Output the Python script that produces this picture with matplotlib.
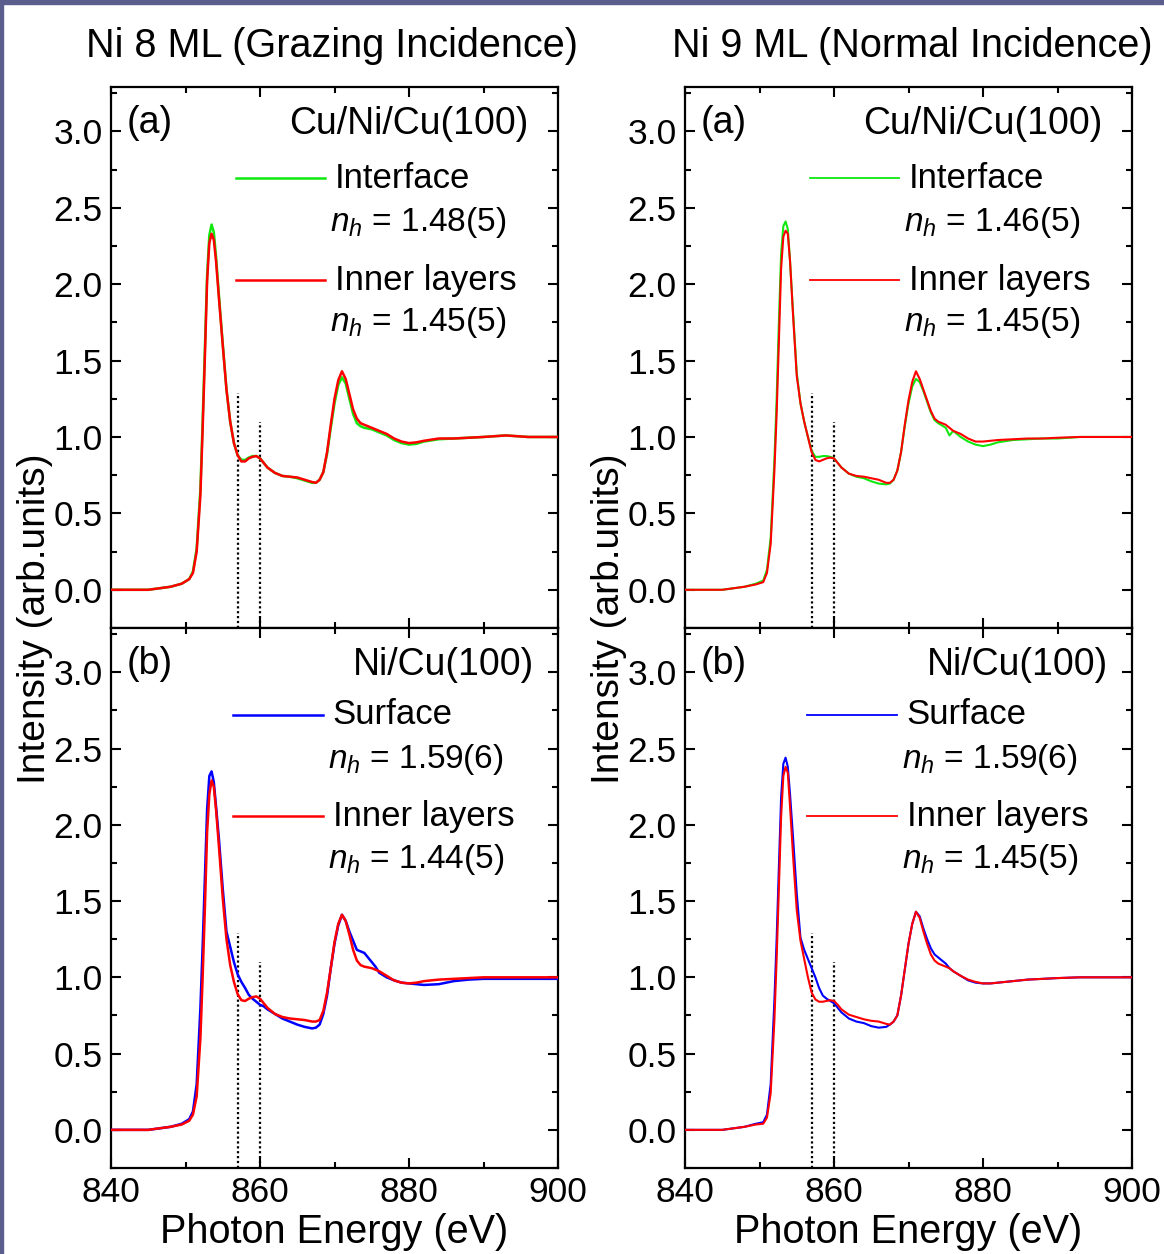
import numpy as np
import matplotlib
matplotlib.use("Agg")
import matplotlib.pyplot as plt
from matplotlib.patches import Rectangle
from matplotlib.ticker import MultipleLocator

plt.rcParams['font.family'] = ['Liberation Sans', 'DejaVu Sans']
plt.rcParams['mathtext.fontset'] = 'custom'
plt.rcParams['mathtext.rm'] = 'Liberation Sans'
plt.rcParams['mathtext.it'] = 'Liberation Sans:italic'

energy = [840, 845, 848, 849.5, 850.5, 851, 851.5, 852, 852.3, 852.6, 852.9, 853.2,
          853.5, 853.8, 854.1, 854.5, 855, 855.5, 856, 856.5, 857, 857.5, 858, 858.5,
          859, 859.5, 860, 860.5, 861, 862, 863, 864, 865, 866, 867, 867.5, 868, 868.5,
          869, 869.5, 870, 870.5, 871, 871.5, 872, 872.5, 873, 873.5, 874, 875, 875.5,
          876, 877, 878, 879, 880, 881, 882, 884, 886, 888, 890, 893, 896, 900]

# (a) grazing incidence, Cu/Ni/Cu(100)
gi_interface = [0.00, 0.00, 0.02, 0.04, 0.07, 0.12, 0.27, 0.66, 1.10, 1.58, 2.06, 2.32,
                2.39, 2.34, 2.18, 1.92, 1.61, 1.31, 1.10, 0.96, 0.88, 0.85, 0.85, 0.865,
                0.875, 0.875, 0.86, 0.83, 0.80, 0.765, 0.745, 0.74, 0.73, 0.715, 0.70, 0.70,
                0.72, 0.77, 0.89, 1.06, 1.22, 1.34, 1.39, 1.35, 1.25, 1.15, 1.09, 1.07, 1.06,
                1.05, 1.04, 1.03, 1.01, 0.98, 0.96, 0.95, 0.955, 0.97, 0.985, 0.99, 0.995,
                1.00, 1.01, 1.00, 1.00]
gi_inner = [0.00, 0.00, 0.02, 0.04, 0.07, 0.11, 0.25, 0.62, 1.05, 1.52, 2.02, 2.27,
            2.33, 2.29, 2.15, 1.90, 1.60, 1.31, 1.10, 0.96, 0.88, 0.84, 0.84, 0.86,
            0.87, 0.875, 0.86, 0.83, 0.80, 0.765, 0.745, 0.74, 0.735, 0.72, 0.705, 0.70,
            0.72, 0.77, 0.90, 1.08, 1.25, 1.37, 1.43, 1.38, 1.28, 1.18, 1.12, 1.09, 1.08,
            1.06, 1.05, 1.04, 1.02, 0.99, 0.97, 0.96, 0.965, 0.975, 0.99, 0.99, 0.995,
            1.00, 1.01, 1.00, 1.00]

# (b) grazing incidence, Ni/Cu(100)
gi_surface = [0.00, 0.00, 0.02, 0.04, 0.07, 0.12, 0.30, 0.80, 1.20, 1.65, 2.10, 2.32,
              2.35, 2.28, 2.12, 1.90, 1.58, 1.30, 1.20, 1.10, 1.02, 0.97, 0.93, 0.885,
              0.86, 0.84, 0.82, 0.81, 0.79, 0.76, 0.73, 0.71, 0.69, 0.675, 0.665, 0.67,
              0.69, 0.76, 0.88, 1.06, 1.22, 1.34, 1.41, 1.37, 1.30, 1.24, 1.18, 1.17, 1.16,
              1.10, 1.07, 1.03, 1.00, 0.98, 0.965, 0.96, 0.955, 0.95, 0.955, 0.975, 0.985,
              0.99, 0.99, 0.99, 0.99]
gi_inner_b = [0.00, 0.00, 0.02, 0.035, 0.06, 0.10, 0.22, 0.60, 1.00, 1.45, 1.95, 2.20,
              2.29, 2.25, 2.10, 1.85, 1.52, 1.25, 1.08, 0.97, 0.89, 0.85, 0.845, 0.86,
              0.87, 0.875, 0.86, 0.83, 0.80, 0.76, 0.74, 0.73, 0.725, 0.72, 0.71, 0.71,
              0.72, 0.78, 0.90, 1.06, 1.23, 1.35, 1.41, 1.37, 1.28, 1.18, 1.11, 1.08, 1.07,
              1.06, 1.05, 1.04, 1.01, 0.98, 0.965, 0.96, 0.965, 0.975, 0.985, 0.99, 0.995,
              1.00, 1.00, 1.00, 1.00]

# (a) normal incidence, Cu/Ni/Cu(100)
ni_interface = [0.00, 0.00, 0.02, 0.04, 0.06, 0.13, 0.34, 0.85, 1.25, 1.75, 2.20, 2.38,
                2.41, 2.36, 2.15, 1.82, 1.42, 1.22, 1.10, 1.00, 0.91, 0.87, 0.87, 0.875,
                0.875, 0.87, 0.86, 0.83, 0.80, 0.76, 0.74, 0.73, 0.71, 0.695, 0.69, 0.695,
                0.72, 0.78, 0.90, 1.07, 1.22, 1.33, 1.38, 1.36, 1.30, 1.23, 1.16, 1.11, 1.09,
                1.06, 1.01, 1.04, 1.00, 0.97, 0.95, 0.94, 0.95, 0.965, 0.98, 0.985, 0.99,
                0.99, 1.00, 1.00, 1.00]
ni_inner = [0.00, 0.00, 0.02, 0.035, 0.05, 0.11, 0.30, 0.78, 1.15, 1.62, 2.10, 2.31,
            2.35, 2.33, 2.15, 1.80, 1.40, 1.22, 1.10, 1.00, 0.90, 0.85, 0.84, 0.85,
            0.86, 0.865, 0.86, 0.83, 0.80, 0.76, 0.745, 0.74, 0.73, 0.72, 0.70, 0.70,
            0.72, 0.78, 0.90, 1.08, 1.24, 1.36, 1.43, 1.38, 1.31, 1.24, 1.17, 1.12, 1.10,
            1.08, 1.06, 1.04, 1.02, 0.99, 0.97, 0.97, 0.975, 0.98, 0.985, 0.99, 0.99,
            0.995, 1.00, 1.00, 1.00]

# (b) normal incidence, Ni/Cu(100)
ni_surface = [0.00, 0.00, 0.02, 0.04, 0.05, 0.10, 0.30, 0.85, 1.25, 1.72, 2.18, 2.40,
              2.44, 2.38, 2.20, 1.92, 1.55, 1.26, 1.18, 1.12, 1.06, 1.00, 0.93, 0.88,
              0.86, 0.845, 0.83, 0.80, 0.77, 0.73, 0.71, 0.70, 0.68, 0.67, 0.675, 0.69,
              0.71, 0.75, 0.88, 1.05, 1.22, 1.35, 1.43, 1.40, 1.32, 1.25, 1.19, 1.15, 1.13,
              1.09, 1.06, 1.04, 1.01, 0.98, 0.965, 0.96, 0.96, 0.965, 0.975, 0.985, 0.99,
              0.995, 1.00, 1.00, 1.00]
ni_inner_b = [0.00, 0.00, 0.02, 0.035, 0.04, 0.08, 0.24, 0.72, 1.12, 1.58, 2.05, 2.32,
              2.38, 2.34, 2.12, 1.80, 1.44, 1.24, 1.12, 1.00, 0.90, 0.855, 0.84, 0.84,
              0.845, 0.85, 0.845, 0.82, 0.79, 0.755, 0.74, 0.725, 0.715, 0.71, 0.695, 0.69,
              0.71, 0.75, 0.88, 1.05, 1.22, 1.35, 1.43, 1.39, 1.30, 1.22, 1.15, 1.11, 1.09,
              1.07, 1.06, 1.04, 1.01, 0.985, 0.97, 0.96, 0.96, 0.965, 0.975, 0.985, 0.99,
              0.995, 1.00, 1.00, 1.00]

# dotted marker lines: energy and height
marker_E = [857, 860]
marker_top = [1.29, 1.10]

titles = ["Ni 8 ML (Grazing Incidence)", "Ni 9 ML (Normal Incidence)"]
samples = ["Cu/Ni/Cu(100)", "Ni/Cu(100)"]
nh_values = [["1.48(5)", "1.45(5)", "1.59(6)", "1.44(5)"],
             ["1.46(5)", "1.45(5)", "1.59(6)", "1.45(5)"]]

GREEN, RED, BLUE = '#10e810', '#ff0000', '#0000ff'

W, H = 1164, 1254
fig = plt.figure(figsize=(W / 100, H / 100), dpi=100)

# bluish slide frame along top and left
fig.patches.append(Rectangle((0, 1 - 4 / H), 1, 4 / H, transform=fig.transFigure,
                             color='#5b5d8c', zorder=0))
fig.patches.append(Rectangle((0, 0), 3 / W, 1, transform=fig.transFigure,
                             color='#5b5d8c', zorder=0))

col_left = [111 / W, 685 / W]
title_x = [332 / W, 912 / W]
ax_w = 447 / W
top_b, top_h = 1 - 628 / H, 541 / H
bot_b, bot_h = 1 - 1168 / H, 540 / H

panel_data = [
    [(gi_interface, gi_inner, GREEN, "Interface"), (gi_surface, gi_inner_b, BLUE, "Surface")],
    [(ni_interface, ni_inner, GREEN, "Interface"), (ni_surface, ni_inner_b, BLUE, "Surface")],
]


def style_axes(ax, show_x):
    ax.set_xlim(840, 900)
    ax.set_ylim(-0.25, 3.29)
    ax.xaxis.set_major_locator(MultipleLocator(20))
    ax.xaxis.set_minor_locator(MultipleLocator(10))
    ax.yaxis.set_major_locator(MultipleLocator(0.5))
    ax.yaxis.set_minor_locator(MultipleLocator(0.25))
    ax.yaxis.set_major_formatter(matplotlib.ticker.FormatStrFormatter('%.1f'))
    ax.tick_params(which='both', direction='in', top=True, right=True, width=1.5,
                   labelsize=25.5)
    ax.tick_params(which='major', length=7, pad=6)
    ax.tick_params(which='minor', length=4)
    if not show_x:
        ax.tick_params(axis='x', labelbottom=False)
    for s in ax.spines.values():
        s.set_linewidth(1.6)


for c in range(2):
    x0 = col_left[c]
    lw = 1.8 if c == 0 else 1.5
    for r, (bot, hgt) in enumerate([(top_b, top_h), (bot_b, bot_h)]):
        ax = fig.add_axes([x0, bot, ax_w, hgt])
        first, inner, color, name = panel_data[c][r]
        ax.plot(energy, first, color=color, lw=lw, zorder=3)
        ax.plot(energy, inner, color=RED, lw=lw, zorder=4)
        for e, t in zip(marker_E, marker_top):
            ax.vlines(e, -0.25, t, colors='k', linestyles=(0, (1, 1.2)), lw=1.6, zorder=2)
        style_axes(ax, show_x=(r == 1))

        tag = "(a)" if r == 0 else "(b)"
        ax.text(0.036, 0.933, tag, transform=ax.transAxes, fontsize=27, va='center')
        sx = 0.934 if r == 0 else 0.947
        ax.text(sx, 0.931, samples[r], transform=ax.transAxes, fontsize=27,
                va='center', ha='right')

        # hand-made legend
        y1, y2, y3, y4 = (0.831, 0.750, 0.643, 0.564) if r == 0 else (0.839, 0.756, 0.651, 0.572)
        lx0, lx1 = (0.280, 0.479) if r == 0 else (0.273, 0.474)
        leg_lw = 1.8 if (c == 0) else 1.3
        ax.plot([lx0, lx1], [y1, y1], color=color, lw=leg_lw, transform=ax.transAxes)
        ax.plot([lx0, lx1], [y3, y3], color=RED, lw=leg_lw, transform=ax.transAxes)
        ax.text(lx1 + 0.022, y1, name, transform=ax.transAxes, fontsize=25, va='center')
        ax.text(lx1 + 0.022, y3, "Inner layers", transform=ax.transAxes, fontsize=25,
                va='center')
        ax.text(lx1 + 0.012, y2, r"$n_h$ = " + nh_values[c][2 * r], transform=ax.transAxes,
                fontsize=24, va='center')
        ax.text(lx1 + 0.012, y4, r"$n_h$ = " + nh_values[c][2 * r + 1],
                transform=ax.transAxes, fontsize=24, va='center')

    cx = x0 + ax_w / 2
    fig.text(title_x[c], 1 - 46 / H, titles[c], fontsize=28.5, ha='center', va='center')
    fig.text(cx, 1 - 1232 / H, "Photon Energy (eV)", fontsize=28.5, ha='center',
             va='center')
    fig.text(x0 - 76 / W, 1 - 619 / H, "Intensity (arb.units)", fontsize=28,
             rotation=90, ha='center', va='center')

fig.savefig("out.png", dpi=100)
